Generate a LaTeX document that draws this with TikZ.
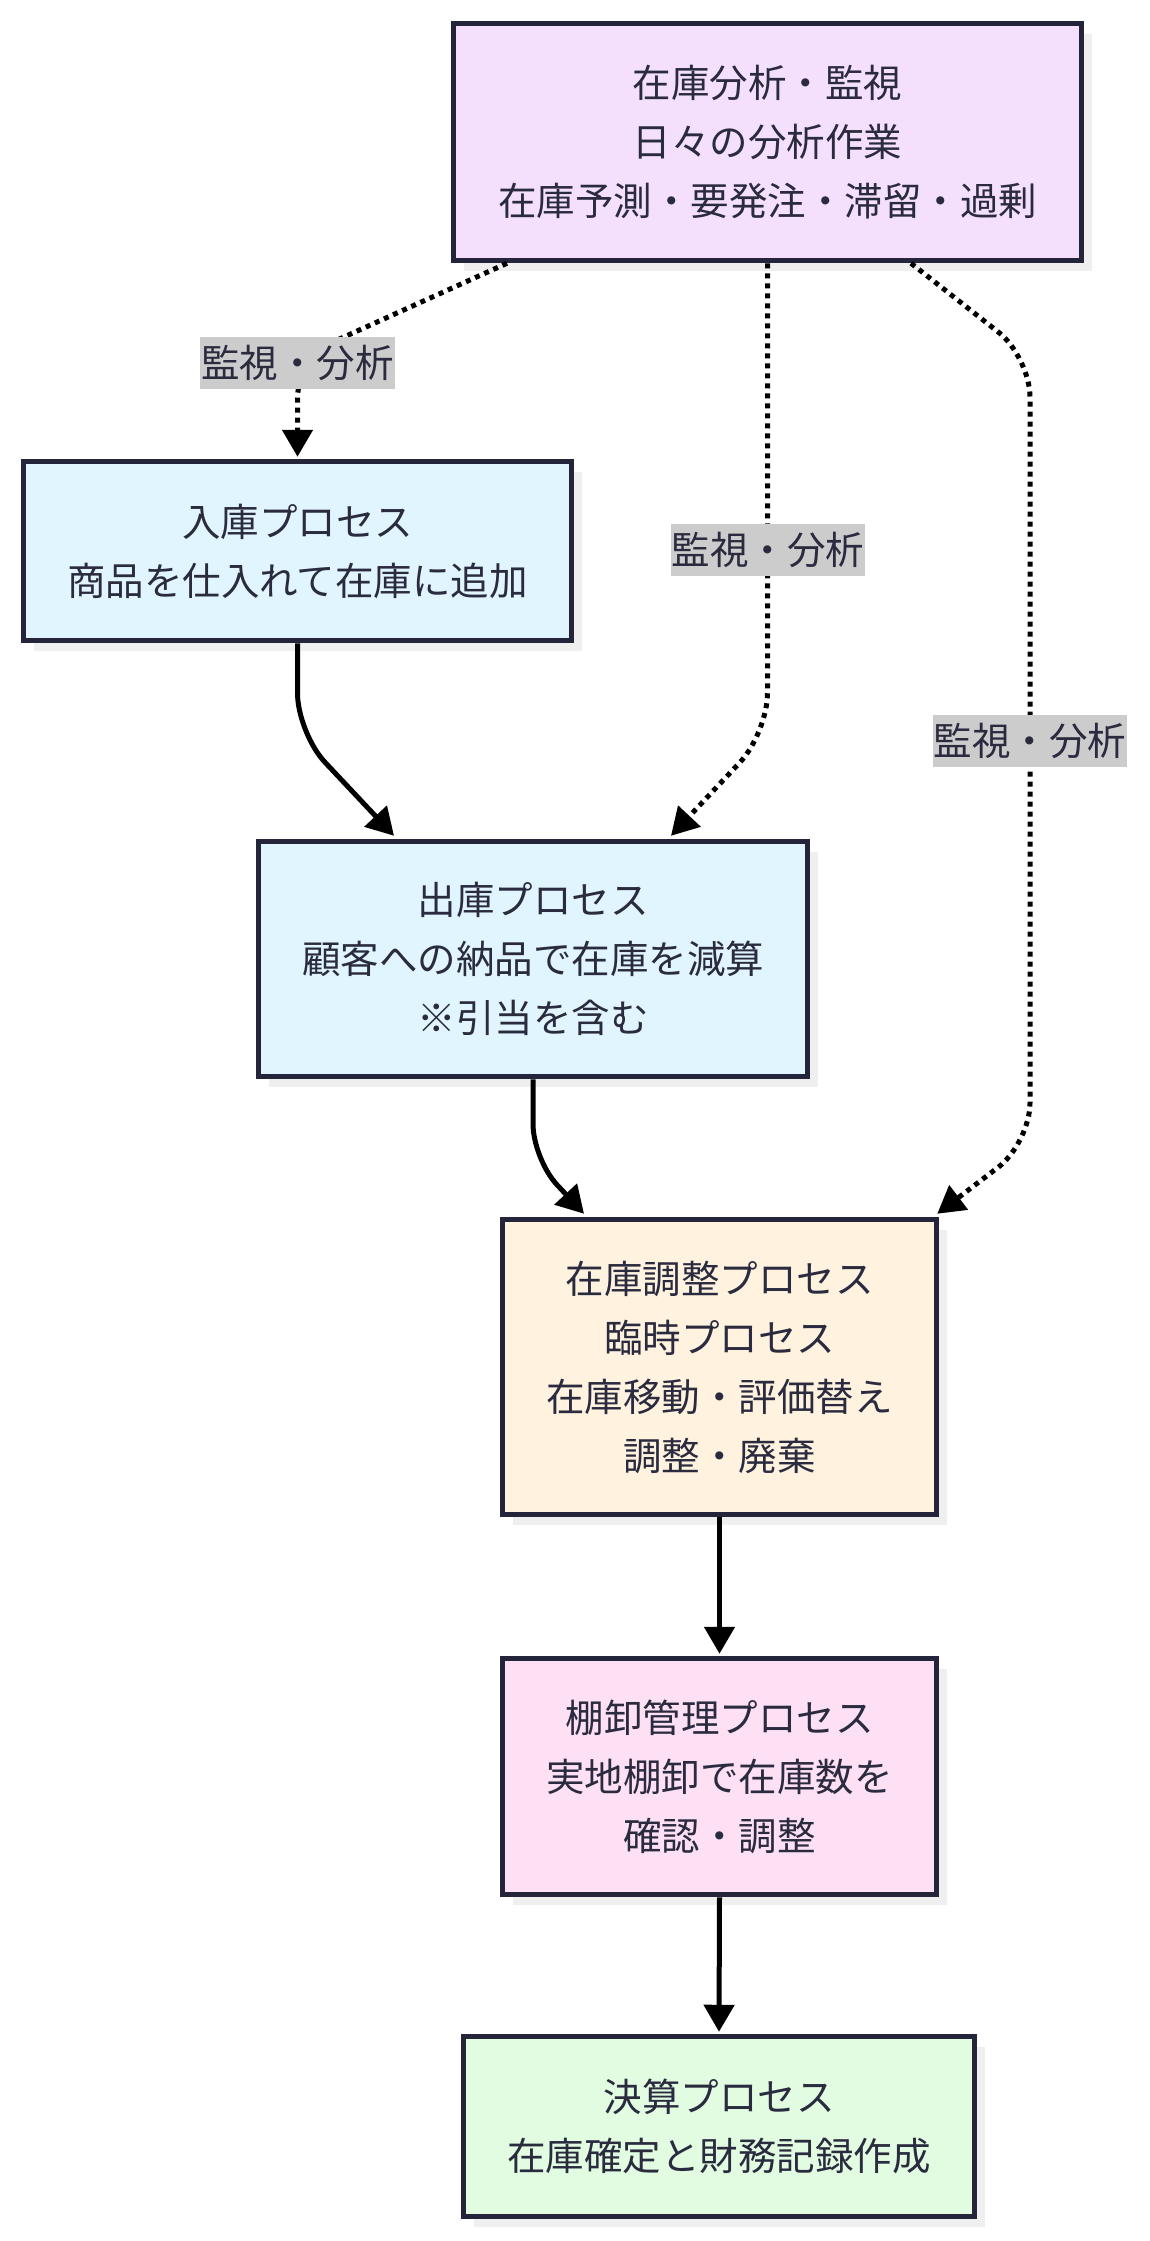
\documentclass[tikz,border=0pt]{standalone}
\usepackage{fontspec}
\setmainfont{Noto Sans CJK JP}
\usetikzlibrary{arrows.meta,shadows}
\definecolor{boxline}{HTML}{24243A}
\definecolor{txt}{HTML}{2B2B40}
\definecolor{fillA}{HTML}{F4E0FD}
\definecolor{fillB}{HTML}{E1F5FE}
\definecolor{fillD}{HTML}{FFF3E0}
\definecolor{fillE}{HTML}{FDE0F4}
\definecolor{fillF}{HTML}{E1FCE0}
\definecolor{shadowgray}{HTML}{EFEFEF}
\definecolor{labelgray}{HTML}{CCCCCC}
\tikzset{
  box/.style={draw=boxline, line width=5.5pt, text=txt, align=center,
    font=\fontsize{38.5}{59}\selectfont, inner sep=0pt,
    drop shadow={shadow xshift=10pt, shadow yshift=-10pt, fill=shadowgray, opacity=1}},
  lab/.style={fill=labelgray, text=txt, font=\fontsize{38.5}{59}\selectfont,
    inner xsep=1pt, inner ysep=0pt, minimum height=52pt},
  solidarrow/.style={draw=black, line width=5pt, -{Triangle[width=30pt,length=27pt]}},
  dotarrow/.style={draw=black, line width=5pt, dash pattern=on 5pt off 5pt,
    -{Triangle[width=30pt,length=27pt]}}
}
\begin{document}
\begin{tikzpicture}[x=1pt,y=-1pt]
\useasboundingbox (0,0) rectangle (1150,2241);
\node[box, fill=fillA, minimum width=628, minimum height=237] (A) at (767.5,142)
  {在庫分析・監視\\日々の分析作業\\在庫予測・要発注・滞留・過剰};
\node[box, fill=fillB, minimum width=548, minimum height=179] (B) at (297.5,551)
  {入庫プロセス\\商品を仕入れて在庫に追加};
\node[box, fill=fillB, minimum width=549, minimum height=235] (C) at (533,959)
  {出庫プロセス\\顧客への納品で在庫を減算\\※引当を含む};
\node[box, fill=fillD, minimum width=434, minimum height=295] (D) at (719.5,1367)
  {在庫調整プロセス\\臨時プロセス\\在庫移動・評価替え\\調整・廃棄};
\node[box, fill=fillE, minimum width=434, minimum height=236] (E) at (719.5,1776.5)
  {棚卸管理プロセス\\実地棚卸で在庫数を\\確認・調整};
\node[box, fill=fillF, minimum width=511, minimum height=180] (F) at (719,2126.5)
  {決算プロセス\\在庫確定と財務記録作成};

\draw[dotarrow, rounded corners=40pt] ([xshift=-260.5pt]A.south) -- (B.north |- 0,358) -- ([yshift=2pt]B.north);
\draw[dotarrow, rounded corners=40pt] (A.south) -- (A.south |- 0,733) -- ([xshift=138pt,yshift=3pt]C.north);
\draw[dotarrow, rounded corners=40pt] ([xshift=143.5pt]A.south) -- (1030,357) -- (1030,1143) -- ([xshift=-2pt,yshift=3pt]D.north east);
\draw[solidarrow, rounded corners=40pt] (B.south) -- (B.south |- 0,733) -- ([xshift=-139pt,yshift=3pt]C.north);
\draw[solidarrow, rounded corners=35pt] (C.south) -- (C.south |- 0,1159) -- ([xshift=-135.5pt,yshift=3pt]D.north);
\draw[solidarrow] (D.south) -- ([yshift=2pt]E.north);
\draw[solidarrow] (E.south) -- ([yshift=2pt]F.north);

\node[lab] (L1) at (297.5,363) {監視・分析};
\node[lab] (L2) at (768,550) {監視・分析};
\node[lab] (L3) at (1030,741) {監視・分析};
\end{tikzpicture}
\end{document}
